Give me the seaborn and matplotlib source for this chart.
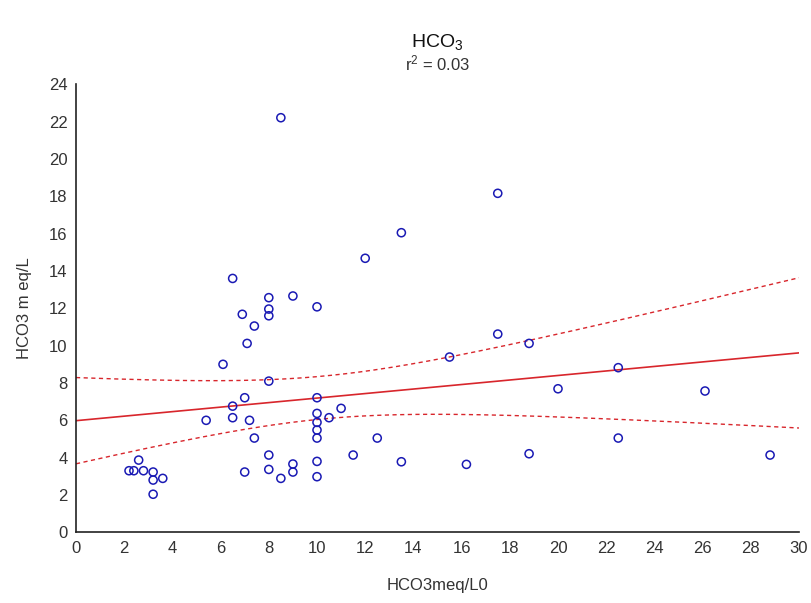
import numpy as np
import pandas as pd
import matplotlib
matplotlib.use("Agg")
import matplotlib.pyplot as plt
from matplotlib.ticker import MultipleLocator
import seaborn as sns

# Baseline HCO3 (meq/L) against follow-up HCO3 (m eq/L)
hco3_l0 = [2.2, 2.4, 2.8, 2.6, 3.2, 3.2, 3.2, 3.6,
           5.4, 6.1, 6.5, 6.5, 7.0, 7.1, 7.2, 7.4, 7.0,
           8.0, 8.0, 8.0, 8.5, 9.0, 9.0,
           10.0, 10.0, 10.0, 10.0, 10.0, 10.0, 10.0,
           10.5, 11.0, 12.5, 11.5, 13.5, 16.2, 18.8, 15.5, 18.8, 17.5,
           20.0, 22.5, 22.5, 26.1, 28.8,
           10.0, 12.0, 13.5, 17.5, 8.5, 6.5, 8.0, 9.0, 6.9, 8.0, 8.0, 7.4]
hco3_meq = [3.3, 3.3, 3.3, 3.87, 2.04, 3.23, 2.8, 2.89,
            6.0, 9.0, 6.76, 6.14, 7.21, 10.12, 6.0, 5.05, 3.23,
            8.1, 4.14, 3.37, 2.89, 3.66, 3.23,
            7.21, 6.37, 5.89, 5.48, 5.05, 3.8, 2.98,
            6.14, 6.64, 5.05, 4.14, 3.78, 3.64, 4.21, 9.39, 10.12, 10.62,
            7.69, 8.82, 5.05, 7.57, 4.14,
            12.08, 14.68, 16.05, 18.16, 22.21, 13.6, 12.57, 12.66, 11.68, 11.96, 11.6, 11.05]

x_ticks = list(range(0, 31, 2))
y_ticks = list(range(0, 25, 2))

df = pd.DataFrame({"x": hco3_l0, "y": hco3_meq})

# Least-squares fit with 95% confidence band for the mean
x = df["x"].to_numpy()
y = df["y"].to_numpy()
n = len(x)
slope, intercept = np.polyfit(x, y, 1)
resid = y - (intercept + slope * x)
s = np.sqrt(np.sum(resid ** 2) / (n - 2))
xbar = x.mean()
sxx = np.sum((x - xbar) ** 2)
t_crit = 2.004
xs = np.linspace(0, 30, 200)
fit = intercept + slope * xs
half = t_crit * s * np.sqrt(1.0 / n + (xs - xbar) ** 2 / sxx)
band = pd.DataFrame({"x": xs, "fit": fit, "lo": fit - half, "hi": fit + half})

sns.set_style("white")
plt.rcParams["font.family"] = ["Liberation Sans", "DejaVu Sans"]
plt.rcParams["mathtext.fontset"] = "custom"
plt.rcParams["mathtext.rm"] = "Liberation Sans"
plt.rcParams["mathtext.it"] = "Liberation Sans:italic"
plt.rcParams["mathtext.bf"] = "Liberation Sans:bold"

fig = plt.figure(figsize=(8.12, 6.03), dpi=100)
ax = fig.add_axes([0.0936, 0.1172, 0.8904, 0.7430])

red = "#d8262c"
sns.lineplot(data=band, x="x", y="fit", ax=ax, color=red, lw=1.2, zorder=2)
sns.lineplot(data=band, x="x", y="lo", ax=ax, color=red, lw=1.0,
             linestyle=(0, (3, 2.5)), zorder=2)
sns.lineplot(data=band, x="x", y="hi", ax=ax, color=red, lw=1.0,
             linestyle=(0, (3, 2.5)), zorder=2)
sns.scatterplot(data=df, x="x", y="y", ax=ax, marker="o", s=34,
                facecolor="none", edgecolor="#1a1ab4", linewidth=1.1, zorder=3)

ax.set_xlim(0, 30)
ax.set_ylim(0, 24)
ax.set_xticks(x_ticks)
ax.set_yticks(y_ticks)
ax.xaxis.set_minor_locator(MultipleLocator(1))
ax.yaxis.set_minor_locator(MultipleLocator(1))
ax.tick_params(axis="both", which="major", direction="in", length=4,
               width=1, labelsize=12, colors="#222222", pad=6)
ax.tick_params(axis="both", which="minor", direction="in", length=2.5,
               width=1, colors="#222222")
ax.tick_params(axis="both", labelcolor="#333333")

for side in ("top", "right"):
    ax.spines[side].set_visible(False)
for side in ("left", "bottom"):
    ax.spines[side].set_color("#222222")
    ax.spines[side].set_linewidth(1.2)

ax.set_xlabel("HCO3meq/L0", fontsize=12, color="#333333", labelpad=16)
ax.set_ylabel("HCO3 m eq/L", fontsize=12, color="#333333", labelpad=12)

fig.text(0.5388, 0.930, r"HCO$_3$", ha="center", va="center",
         fontsize=14, color="#111111")
fig.text(0.5388, 0.895, r"r$^2$ = 0.03", ha="center", va="center",
         fontsize=12, color="#333333")

fig.savefig("out.png", dpi=100, facecolor="white")
